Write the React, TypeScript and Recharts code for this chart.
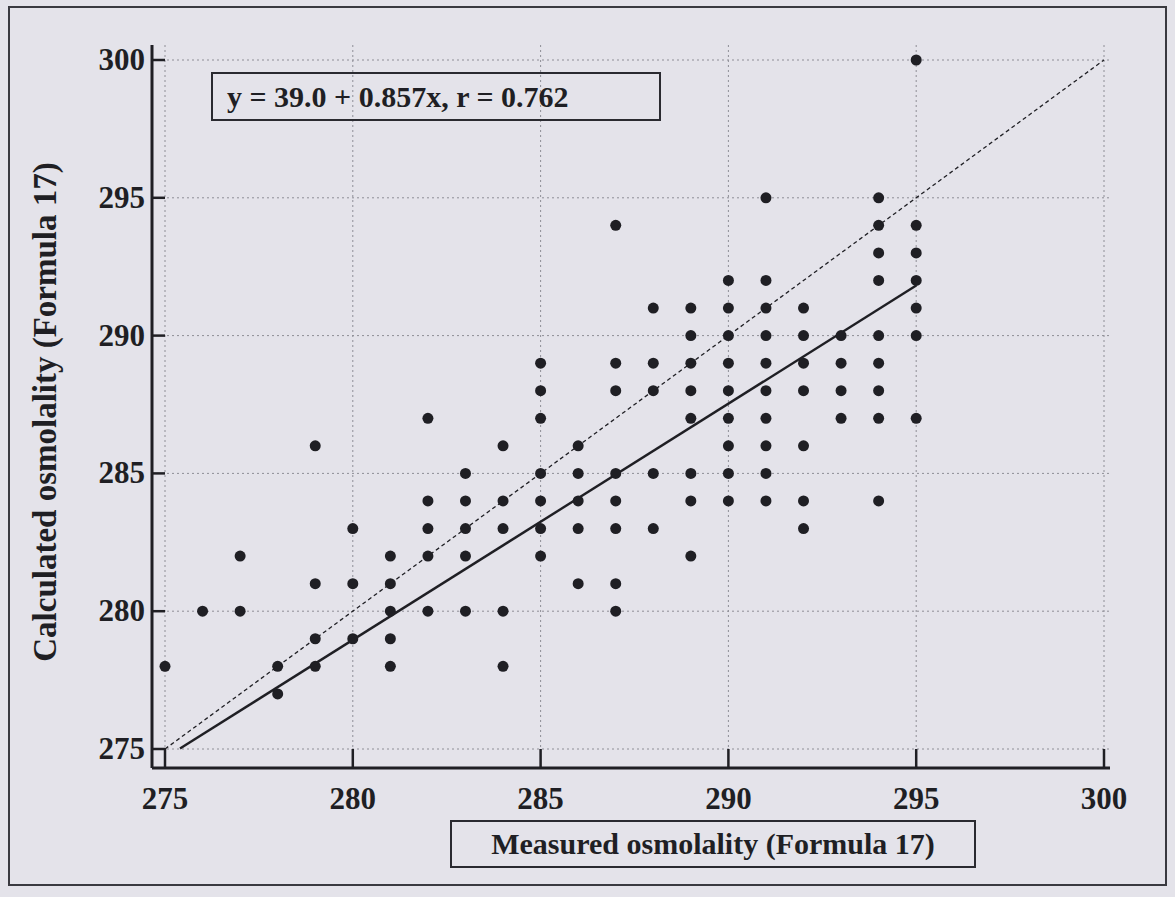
import React from "react";
import { ScatterChart, Scatter, XAxis, YAxis, CartesianGrid } from "recharts";

// measured osmolality levels (x) and the calculated values seen at each level (y)
const measuredLevels = [275, 276, 277, 278, 279, 280, 281, 282, 283, 284, 285, 286, 287, 288, 289, 290, 291, 292, 293, 294, 295];
const calculatedAtLevel: number[][] = [
  [278],
  [280],
  [280, 282],
  [277, 278],
  [278, 279, 281, 286],
  [279, 281, 283],
  [278, 279, 280, 281, 282],
  [280, 282, 283, 284, 287],
  [280, 282, 283, 284, 285],
  [278, 280, 283, 284, 286],
  [282, 283, 284, 285, 287, 288, 289],
  [281, 283, 284, 285, 286],
  [280, 281, 283, 284, 285, 288, 289, 294],
  [283, 285, 288, 289, 291],
  [282, 284, 285, 287, 288, 289, 290, 291],
  [284, 285, 286, 287, 288, 289, 290, 291, 292],
  [284, 285, 286, 287, 288, 289, 290, 291, 292, 295],
  [283, 284, 286, 288, 289, 290, 291],
  [287, 288, 289, 290],
  [284, 287, 288, 289, 290, 292, 293, 294, 295],
  [287, 290, 291, 292, 293, 294, 300],
];

const axisTicks = [275, 280, 285, 290, 295, 300];

// regression y = 39.0 + 0.857x (drawn from where it enters the plot), and the line of identity
const fitX = [275.4, 295];
const intercept = 39.0;
const slope = 0.857;
const identityX = [275, 300];

const points = measuredLevels.flatMap((m, i) =>
  calculatedAtLevel[i].map((c) => ({ x: m, y: c }))
);
const fitLine = fitX.map((x) => ({ x, y: intercept + slope * x }));
const identityLine = identityX.map((x) => ({ x, y: x }));

const serif = '"Liberation Serif", "Times New Roman", serif';
const ink = "#1f1f24";

const XTick = (props: any) => {
  const { x, y, payload } = props;
  return (
    <g>
      <line x1={x} y1={y} x2={x} y2={y - 19} stroke={ink} strokeWidth={2.5} />
      <text x={x} y={y + 41} textAnchor="middle" fontFamily={serif} fontWeight="bold" fontSize={31} fill={ink}>
        {payload.value}
      </text>
    </g>
  );
};

const YTick = (props: any) => {
  const { x, y, payload } = props;
  return (
    <g>
      <line x1={x} y1={y} x2={x + 13} y2={y} stroke={ink} strokeWidth={2.5} />
      <text x={x - 7} y={y + 10} textAnchor="end" fontFamily={serif} fontWeight="bold" fontSize={31} fill={ink}>
        {payload.value}
      </text>
    </g>
  );
};

const Dot = (props: any) => <circle cx={props.cx} cy={props.cy} r={5.5} fill={ink} />;
const NoDot = () => <g />;

export default function App() {
  return (
    <div style={{ position: "fixed", left: 0, top: 0, width: 1175, height: 897, background: "#e4e3ea", overflow: "hidden" }}>
      <div style={{ position: "absolute", left: 8, top: 6, width: 1155, height: 876, border: "2px solid #3a3a40" }} />
      <div style={{ position: "absolute", left: 0, top: 0 }}>
        <ScatterChart width={1175} height={897} margin={{ top: 45, right: 65, left: 100, bottom: 69 }}>
          <CartesianGrid stroke="#8e8e96" strokeDasharray="2 3" strokeWidth={1} syncWithTicks />
          <XAxis
            type="number"
            dataKey="x"
            domain={[275, 300]}
            ticks={axisTicks}
            padding={{ left: 13, right: 6 }}
            height={60}
            axisLine={{ stroke: ink, strokeWidth: 3 }}
            tickLine={false}
            tickSize={0}
            tickMargin={0}
            tick={<XTick />}
          />
          <YAxis
            type="number"
            dataKey="y"
            domain={[275, 300]}
            ticks={axisTicks}
            padding={{ top: 15, bottom: 19 }}
            width={52}
            axisLine={{ stroke: ink, strokeWidth: 3 }}
            tickLine={false}
            tickSize={0}
            tickMargin={0}
            tick={<YTick />}
          />
          <Scatter data={identityLine} line={{ stroke: ink, strokeWidth: 1.3, strokeDasharray: "4 3" }} shape={<NoDot />} isAnimationActive={false} />
          <Scatter data={fitLine} line={{ stroke: ink, strokeWidth: 2.4 }} shape={<NoDot />} isAnimationActive={false} />
          <Scatter data={points} shape={<Dot />} isAnimationActive={false} />
        </ScatterChart>
      </div>
      <div
        style={{
          position: "absolute", left: 211, top: 72, width: 432, height: 45,
          border: "2px solid #2a2a30", fontFamily: serif, fontWeight: "bold", fontSize: 30,
          color: ink, lineHeight: "45px", paddingLeft: 14, whiteSpace: "nowrap",
        }}
      >
        y = 39.0 + 0.857x, r = 0.762
      </div>
      <div
        style={{
          position: "absolute", left: 450, top: 820, width: 522, height: 44,
          border: "2px solid #2a2a30", fontFamily: serif, fontWeight: "bold", fontSize: 30,
          color: ink, lineHeight: "44px", textAlign: "center", whiteSpace: "nowrap",
        }}
      >
        Measured osmolality (Formula 17)
      </div>
      <div
        style={{
          position: "absolute", left: 45, top: 412, width: 600, marginLeft: -300, marginTop: -18,
          height: 36, lineHeight: "36px", textAlign: "center", transform: "rotate(-90deg)",
          fontFamily: serif, fontWeight: "bold", fontSize: 33, color: ink, whiteSpace: "nowrap",
        }}
      >
        Calculated osmolality (Formula 17)
      </div>
    </div>
  );
}
